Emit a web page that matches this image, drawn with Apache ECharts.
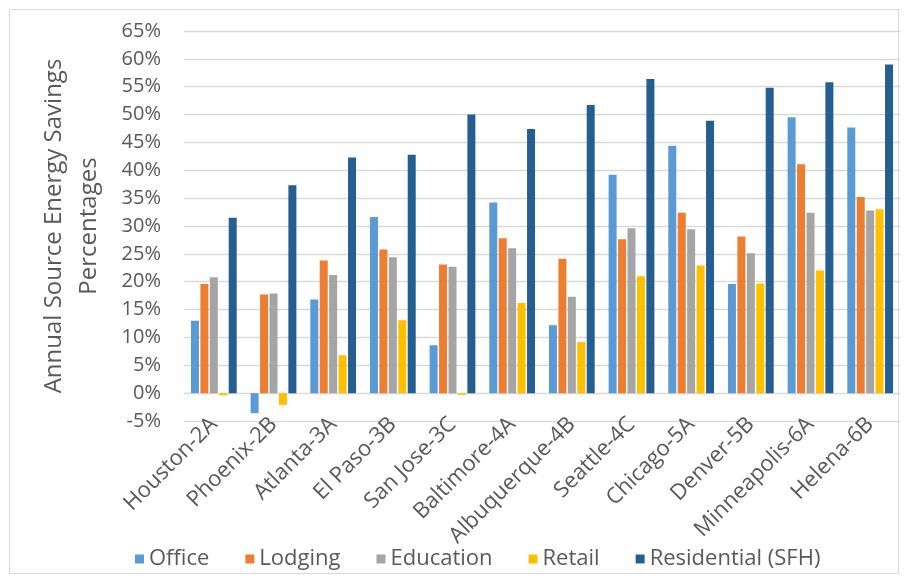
<!DOCTYPE html>
<html><head><meta charset="utf-8">
<script src="https://cdn.jsdelivr.net/npm/echarts@6/dist/echarts.min.js"></script>
<style>html,body{margin:0;padding:0;background:#fff}#c{width:906px;height:580px}</style>
</head><body><div id="c"></div>
<script>
const categories = ["Houston-2A","Phoenix-2B","Atlanta-3A","El Paso-3B","San Jose-3C","Baltimore-4A","Albuquerque-4B","Seattle-4C","Chicago-5A","Denver-5B","Minneapolis-6A","Helena-6B"];
const office      = [13.0,-3.6,16.8,31.6, 8.6,34.2,12.2,39.2,44.4,19.6,49.5,47.7];
const lodging     = [19.6,17.7,23.8,25.8,23.1,27.8,24.1,27.6,32.4,28.1,41.1,35.2];
const education   = [20.8,17.9,21.2,24.4,22.7,26.0,17.3,29.6,29.4,25.1,32.4,32.8];
const retail      = [-0.4,-2.1, 6.8,13.1,-0.3,16.2, 9.2,21.0,22.9,19.7,22.0,33.0];
const residential = [31.5,37.3,42.3,42.8,50.0,47.4,51.7,56.4,48.9,54.8,55.8,59.0];
const seriesNames = ["Office","Lodging","Education","Retail","Residential (SFH)"];
const colors = ["#5B9BD5","#ED7D31","#A5A5A5","#FFC000","#255E91"];
const yTitle = "Annual Source Energy Savings\nPercentages";

const font = "'Open Sans', sans-serif";
const chart = echarts.init(document.getElementById('c'));
const data = [office, lodging, education, retail, residential];
chart.setOption({
  animation: false,
  color: colors,
  graphic: [{type:'rect', shape:{x:9.5,y:9.5,width:889,height:564}, style:{fill:'none', stroke:'#d9d9d9', lineWidth:1}}],
  grid: {left:184, right:6, top:31, bottom:159},
  legend: {
    data: seriesNames, top: 543, left: 130,
    itemWidth: 9, itemHeight: 9, itemGap: 36,
    textStyle: {fontFamily: font, fontSize: 22, color:'#595959'},
    icon: 'rect'
  },
  xAxis: {
    type:'category', data: categories,
    axisLine:{show:false, onZero:false}, axisTick:{show:false},
    axisLabel:{rotate:45, fontFamily:font, fontSize:22, color:'#595959', margin:0, interval:0}
  },
  yAxis: {
    type:'value', min:-5, max:65, interval:5,
    name: yTitle, nameLocation:'middle', nameGap:77, nameRotate:90,
    nameTextStyle:{fontFamily:font, fontSize:24, color:'#595959', lineHeight:35},
    axisLabel:{formatter: v => v + '%', fontFamily:font, fontSize:20, color:'#595959', margin:23},
    splitLine:{lineStyle:{color:'#d9d9d9', width:1.3}},
    axisLine:{show:false}, axisTick:{show:false}
  },
  series: seriesNames.map((n,i)=>({
    name:n, type:'bar', data:data[i], barWidth:8, barGap:'18%',
    itemStyle:{color:colors[i]}
  }))
});
</script></body></html>
